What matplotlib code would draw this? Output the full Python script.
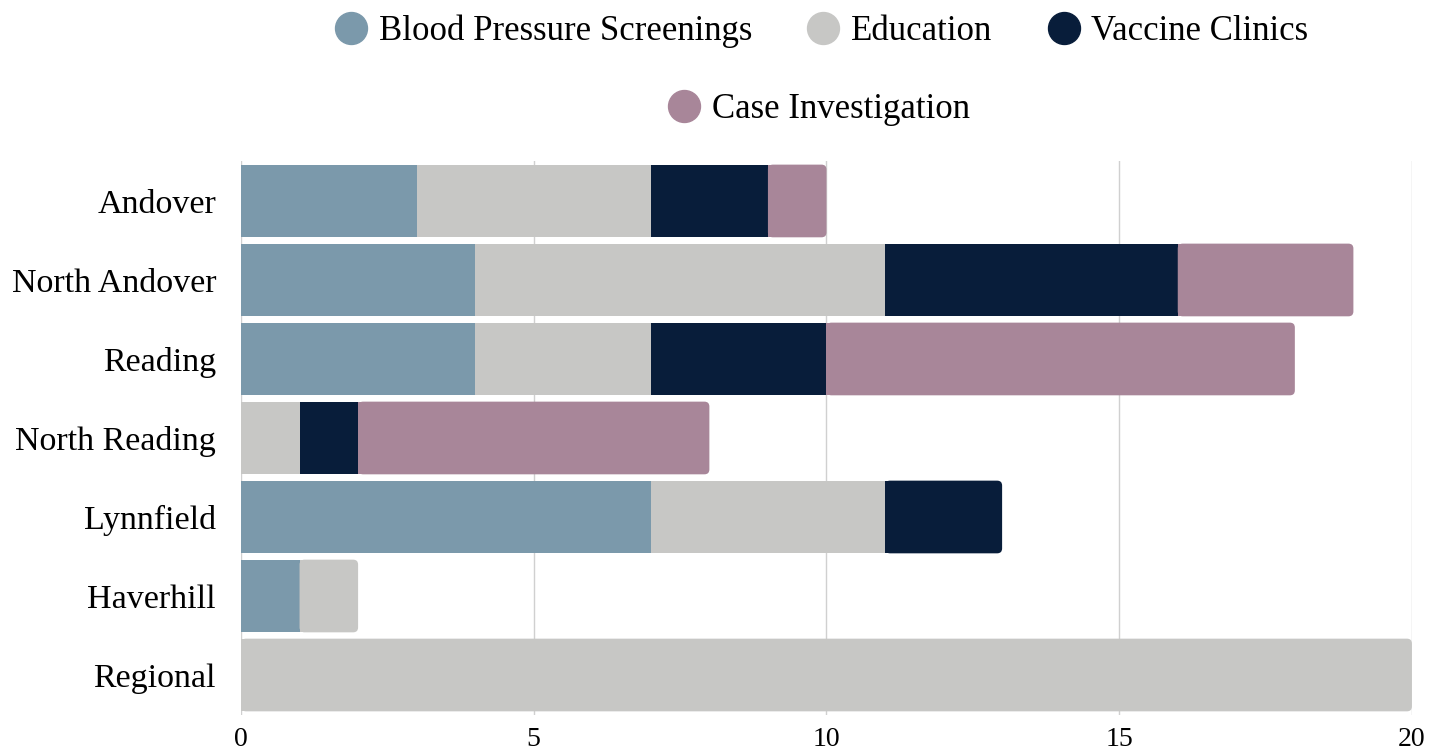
import matplotlib.pyplot as plt
from matplotlib.lines import Line2D
from matplotlib.patches import FancyBboxPatch, Rectangle

towns = ["Andover", "North Andover", "Reading", "North Reading", "Lynnfield", "Haverhill", "Regional"]
blood_pressure = [3, 4, 4, 0, 7, 1, 0]
education = [4, 7, 3, 1, 4, 1, 20]
vaccine = [2, 5, 3, 1, 2, 0, 0]
case_inv = [1, 3, 8, 6, 0, 0, 0]

series = [
    ("Blood Pressure Screenings", blood_pressure, "#7b99ab"),
    ("Education", education, "#c7c7c5"),
    ("Vaccine Clinics", vaccine, "#081d3a"),
    ("Case Investigation", case_inv, "#a88699"),
]

plt.rcParams['font.family'] = ['Liberation Serif', 'DejaVu Serif']

fig = plt.figure(figsize=(14.44, 7.51), dpi=100)
ax = fig.add_axes([0.1669, 0.0486, 0.8109, 0.7364])

h = 0.92
ypos = list(range(len(towns)))

# find the outermost segment of every bar (it gets a rounded end)
left = [0] * len(towns)
last = [None] * len(towns)
for name, vals, col in series:
    for i, v in enumerate(vals):
        if v > 0:
            last[i] = (left[i], col)
        left[i] += v

left = [0] * len(towns)
for name, vals, col in series:
    for i, v in enumerate(vals):
        if v <= 0:
            continue
        x0 = left[i]
        if last[i] == (x0, col):
            r = 0.085
            ax.add_patch(FancyBboxPatch((x0, i - h / 2), v, h,
                                        boxstyle="round,pad=0,rounding_size=%f" % r,
                                        mutation_aspect=0.74, fc=col, ec="none", zorder=3))
            ax.add_patch(Rectangle((x0, i - h / 2), v - 2 * r, h, fc=col, ec="none", zorder=3))
        else:
            ax.add_patch(Rectangle((x0, i - h / 2), v, h, fc=col, ec="none", zorder=3))
        left[i] += v

ax.set_xlim(0, 20)
ax.set_ylim(len(towns) - 0.5, -0.5)
ax.set_yticks(ypos)
ax.set_yticklabels(towns, fontsize=24.5)
ax.set_xticks([0, 5, 10, 15, 20])
ax.set_xticklabels(["0", "5", "10", "15", "20"], fontsize=20)
ax.tick_params(axis='y', length=0, pad=18)
ax.tick_params(axis='x', length=0, pad=9)
for s in ax.spines.values():
    s.set_visible(False)
ax.grid(axis='x', color="#d0d0d0", linewidth=1, zorder=0)
ax.set_axisbelow(True)

handles = [Line2D([], [], marker='o', linestyle='none', markersize=23,
                  markerfacecolor=c, markeredgecolor=c, label=n) for n, v, c in series]
kw = dict(frameon=False, fontsize=25, handletextpad=0.25, columnspacing=1.5, borderpad=0, handlelength=1.1)
fig.legend(handles=handles[:3], ncol=3, loc='center', bbox_to_anchor=(0.568, 1 - 31 / 751), **kw)
fig.legend(handles=handles[3:], ncol=1, loc='center', bbox_to_anchor=(0.566, 1 - 110 / 751), **kw)

fig.savefig("out.png", dpi=100)
